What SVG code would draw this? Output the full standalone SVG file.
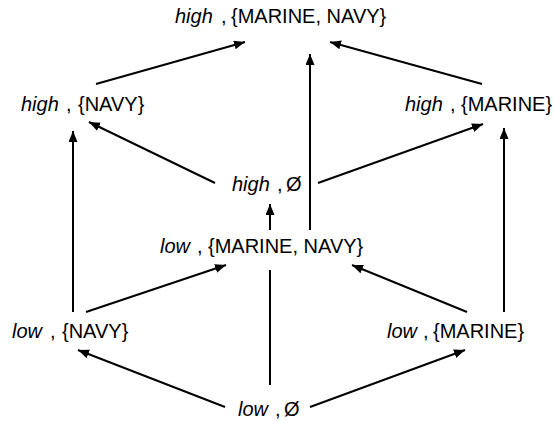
<svg xmlns="http://www.w3.org/2000/svg" width="554" height="421" viewBox="0 0 554 421">
  <style>
    .lbl { font-family: "Liberation Sans", Arial, sans-serif; font-size: 20px; fill: #000; }
    .w { font-style: italic; }
    .edge { stroke: #000; stroke-width: 2; fill: none; }
    .arrow { marker-end: url(#head); }
  </style>
  <defs>
    <marker id="head" markerUnits="userSpaceOnUse" markerWidth="12" markerHeight="10" refX="11" refY="4.5" orient="auto">
      <path d="M0,0 L11,4.5 L0,9 z" fill="#000"/>
    </marker>
  </defs>
  <rect width="554" height="421" fill="#fff"/>

  <!-- connectors -->
  <g id="edges">
    <line class="edge arrow" x1="96" y1="84" x2="245" y2="42"/>
    <line class="edge arrow" x1="482" y1="84" x2="330" y2="42"/>
    <line class="edge arrow" x1="310" y1="230" x2="310" y2="54"/>
    <line class="edge arrow" x1="270" y1="230" x2="270" y2="204"/>
    <line class="edge arrow" x1="215" y1="183" x2="89" y2="122"/>
    <line class="edge arrow" x1="318" y1="183" x2="483" y2="124"/>
    <line class="edge arrow" x1="73" y1="312" x2="73" y2="131"/>
    <line class="edge arrow" x1="504" y1="312" x2="504" y2="128"/>
    <line class="edge arrow" x1="86" y1="312" x2="226" y2="265"/>
    <line class="edge arrow" x1="467" y1="312" x2="352" y2="265"/>
    <line class="edge" x1="270" y1="385" x2="270" y2="270"/>
    <line class="edge arrow" x1="225" y1="407" x2="78" y2="350"/>
    <line class="edge arrow" x1="310" y1="407" x2="465" y2="350"/>
  </g>

  <!-- nodes -->
  <g id="high-marine-navy">
    <text class="lbl" y="23"><tspan class="w" x="175">high</tspan><tspan x="221">,</tspan><tspan x="231">{MARINE, NAVY}</tspan></text>
  </g>
  <g id="high-navy">
    <text class="lbl" y="111"><tspan class="w" x="21">high</tspan><tspan x="66">,</tspan><tspan x="78">{NAVY}</tspan></text>
  </g>
  <g id="high-marine">
    <text class="lbl" y="111"><tspan class="w" x="405">high</tspan><tspan x="450">,</tspan><tspan x="461">{MARINE}</tspan></text>
  </g>
  <g id="high-empty">
    <text class="lbl" y="191"><tspan class="w" x="232">high</tspan><tspan x="277">,</tspan><tspan x="286">Ø</tspan></text>
  </g>
  <g id="low-marine-navy">
    <text class="lbl" y="253"><tspan class="w" x="160">low</tspan><tspan x="197">,</tspan><tspan x="208">{MARINE, NAVY}</tspan></text>
  </g>
  <g id="low-navy">
    <text class="lbl" y="338"><tspan class="w" x="12">low</tspan><tspan x="50">,</tspan><tspan x="62">{NAVY}</tspan></text>
  </g>
  <g id="low-marine">
    <text class="lbl" y="338"><tspan class="w" x="387">low</tspan><tspan x="423">,</tspan><tspan x="433">{MARINE}</tspan></text>
  </g>
  <g id="low-empty">
    <text class="lbl" y="416"><tspan class="w" x="238">low</tspan><tspan x="275">,</tspan><tspan x="284">Ø</tspan></text>
  </g>
</svg>
